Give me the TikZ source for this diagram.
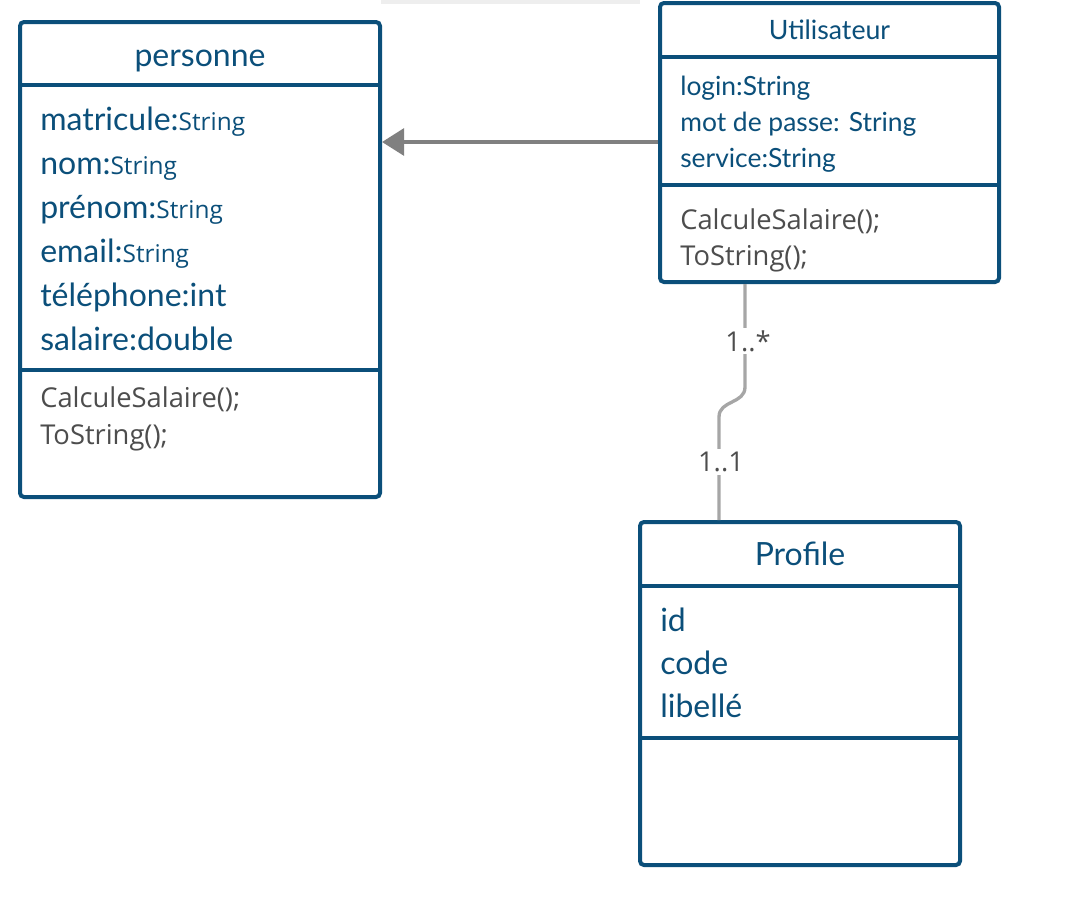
\documentclass[tikz,border=0pt]{standalone}
\usepackage{fontspec}
\setmainfont{Lato}
\newfontfamily\osans{Open Sans}
\usetikzlibrary{arrows.meta,fit,calc}
\definecolor{ublue}{HTML}{0B4F7A}
\definecolor{tblue}{HTML}{0B4F7A}
\definecolor{tgray}{HTML}{4D4D4D}
\definecolor{agray}{HTML}{808080}
\definecolor{lgray}{HTML}{A6A6A6}
\definecolor{barg}{HTML}{EEEEEE}
\newcommand\szTitle{\fontsize{24}{28}\selectfont}
\newcommand\szTitleS{\fontsize{20}{24}\selectfont}
\newcommand\szBig{\fontsize{24}{28}\selectfont}
\newcommand\szSmall{\osans\fontsize{18.3}{22}\selectfont}
\newcommand\szMid{\osans\fontsize{20.5}{24}\selectfont}
\newcommand\szLab{\osans\fontsize{20.5}{24}\selectfont}
\newcommand\szAttr{\fontsize{19.8}{23}\selectfont}
\tikzset{
  classbox/.style={draw=ublue, line width=3pt, rounded corners=3pt, fill=white, inner sep=0pt},
  sepline/.style={draw=ublue, line width=3pt},
  ctitle/.style={text=tblue, inner sep=0pt, anchor=base},
  attr/.style={text=tblue, inner sep=0pt, anchor=base west},
  meth/.style={text=tgray, inner sep=0pt, anchor=base west},
  inh/.style={draw=agray, line width=3pt, -{Triangle[length=16.5pt,width=20pt]}},
  assoc/.style={draw=lgray, line width=2.5pt},
  mult/.style={fill=white, text=tgray, inner sep=2pt, font=\szLab}
}
\begin{document}
\begin{tikzpicture}[x=0.75pt,y=-0.75pt]
\useasboundingbox (0,0) rectangle (1089,918);
\fill[barg] (381,0) rectangle (640,4);
% personne
\coordinate (p1) at (20,22); \coordinate (p2) at (380,497);
\node[classbox, fit=(p1)(p2)] (pers) {};
\draw[sepline] (20,85) -- (380,85);
\draw[sepline] (20,370) -- (380,370);
\node[ctitle, font=\szTitle] (perst) at (200,66) {personne};
\node[attr] (pa1) at (40,130) {\szBig matricule:\szSmall String};
\node[attr] (pa2) at (40,174) {\szBig nom:\szSmall String};
\node[attr] (pa3) at (40,218) {\szBig prénom:\szSmall String};
\node[attr] (pa4) at (40,262) {\szBig email:\szSmall String};
\node[attr] (pa5) at (40,306.5) {\szBig téléphone:int};
\node[attr] (pa6) at (40,350.5) {\szBig salaire:double};
\node[meth, font=\szMid] (pm1) at (40,407) {CalculeSalaire();};
\node[meth, font=\szMid] (pm2) at (40,444) {ToString();};
% Utilisateur
\coordinate (u1) at (660,3); \coordinate (u2) at (999,282);
\node[classbox, fit=(u1)(u2)] (util) {};
\draw[sepline] (660,57) -- (999,57);
\draw[sepline] (660,185) -- (999,185);
\node[ctitle, font=\szTitleS] (utilt) at (829.5,39) {Utilisateur};
\node[attr, font=\szAttr] (ua1) at (680,95.5) {login:String};
\node[attr, font=\szAttr] (ua2) at (680,131.5) {mot de passe: String};
\node[attr, font=\szAttr] (ua3) at (680,167.5) {service:String};
\node[meth, font=\szMid] (um1) at (680,229) {CalculeSalaire();};
\node[meth, font=\szMid] (um2) at (680,265) {ToString();};
% Profile
\coordinate (r1) at (640,522); \coordinate (r2) at (960,865);
\node[classbox, fit=(r1)(r2)] (prof) {};
\draw[sepline] (640,586) -- (960,586);
\draw[sepline] (640,738) -- (960,738);
\node[ctitle, font=\szTitle] (proft) at (800,565) {Profile};
\node[attr, font=\szBig] (ra1) at (660,631) {id};
\node[attr, font=\szBig] (ra2) at (660,674) {code};
\node[attr, font=\szBig] (ra3) at (660,717) {libellé};
% inheritance
\coordinate (yinh) at (500,142);
\draw[inh] (util.west |- yinh) -- (pers.east |- yinh);
% association
\coordinate (ca) at (745,387); \coordinate (cb) at (719,417);
\draw[assoc] (ca |- util.south) -- (ca) .. controls (745,404) and (719,400) .. (cb) -- (cb |- prof.north);
\node[mult] (m1) at (748,341) {1..*};
\node[mult] (m2) at (721,462) {1..1};
\end{tikzpicture}
\end{document}
